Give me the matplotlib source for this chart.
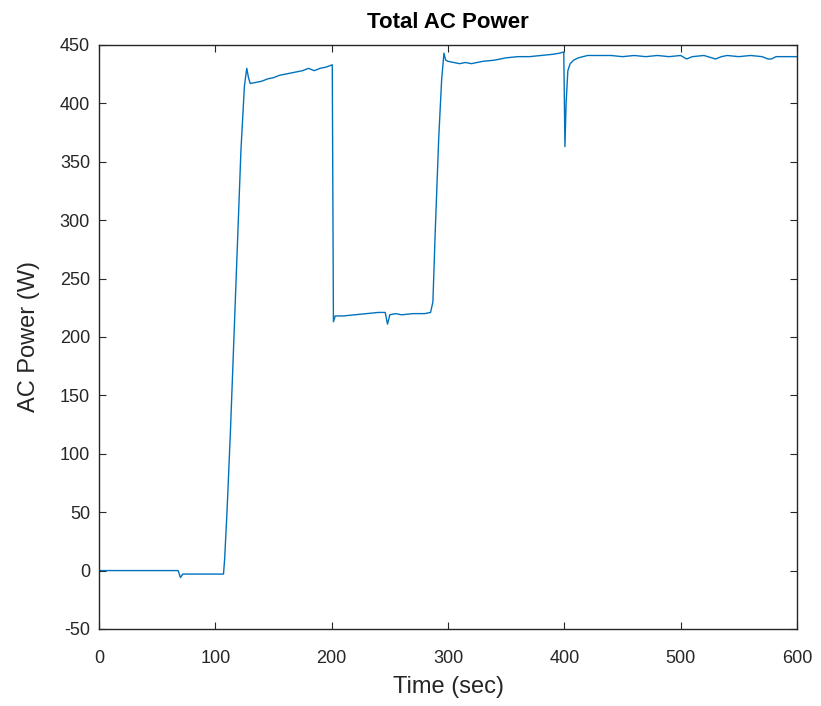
import matplotlib
matplotlib.use("Agg")
import matplotlib.pyplot as plt

time_sec = [0, 68, 70, 72, 80, 100, 107, 108, 110, 113, 116, 119, 122, 125, 127, 128.5,
            130, 135, 140, 145, 150, 155, 160, 165, 170, 175, 180, 185, 190, 195, 200.5,
            201.5, 203, 210, 220, 230, 240, 246, 248, 250, 255, 260, 270, 280, 285, 287,
            289, 292, 294.5, 296.5, 298, 300, 305, 310, 315, 320, 330, 340, 350, 360, 370,
            380, 390, 396, 399.5, 400.5, 401.5, 403, 405, 408, 412, 416, 420, 430, 440, 450,
            460, 470, 480, 490, 500, 505, 510, 520, 530, 535, 540, 550, 560, 570, 575, 578,
            582, 590, 600]
ac_power = [0, 0, -6, -3, -3, -3, -3, 10, 50, 120, 200, 280, 360, 415, 430, 422,
            417, 418, 419, 421, 422, 424, 425, 426, 427, 428, 430, 428, 430, 431, 433,
            213, 218, 218, 219, 220, 221, 221, 211, 219, 220, 219, 220, 220, 221, 230,
            290, 370, 420, 443, 437, 436, 435, 434, 435, 434, 436, 437, 439, 440, 440,
            441, 442, 443, 444, 363, 400, 428, 434, 437, 439, 440, 441, 441, 441, 440,
            441, 440, 441, 440, 441, 438, 440, 441, 438, 440, 441, 440, 441, 440, 438, 438,
            440, 440, 440]

x_ticks = [0, 100, 200, 300, 400, 500, 600]
y_ticks = [-50, 0, 50, 100, 150, 200, 250, 300, 350, 400, 450]

plt.rcParams['font.family'] = ['Liberation Sans', 'DejaVu Sans']
plt.rcParams['axes.unicode_minus'] = False
fig = plt.figure(figsize=(8.21, 7.06), dpi=100)
ax = fig.add_axes([0.1206, 0.1091, 0.8502, 0.8272])
ax.plot(time_sec, ac_power, color='#0072BD', lw=1.0)
ax.set_xlim(0, 600)
ax.set_ylim(-50, 450)
ax.set_xticks(x_ticks)
ax.set_yticks(y_ticks)
dark = '#262626'
for s in ax.spines.values():
    s.set_color(dark)
    s.set_linewidth(1.0)
ax.tick_params(direction='in', top=True, right=True, length=5, width=0.8,
               colors=dark, labelsize=13)
ax.tick_params(axis='x', pad=15)
ax.tick_params(axis='y', pad=6.5)
ax.set_xlabel('Time (sec)', fontsize=17, color=dark)
ax.xaxis.set_label_coords(0.5, -0.080)
ax.set_ylabel('AC Power (W)', fontsize=17, color=dark)
ax.yaxis.set_label_coords(-0.085, 0.5)
ax.set_title('Total AC Power', fontsize=16, fontweight='bold', color='black', pad=12)
fig.savefig('out.png', dpi=100)
